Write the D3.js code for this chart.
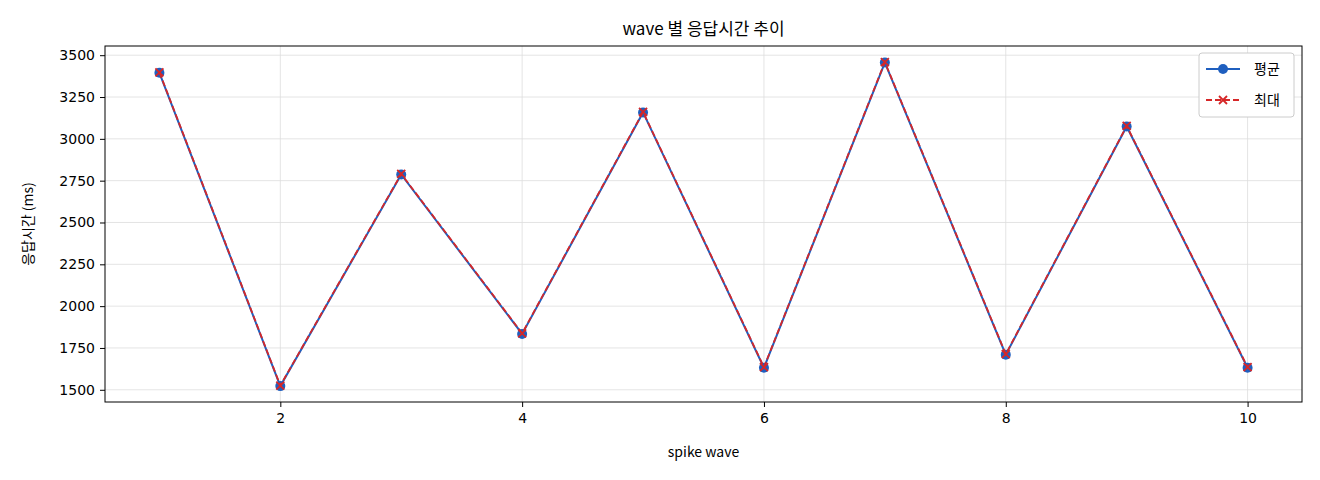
<!DOCTYPE html>
<html><head><meta charset="utf-8">
<script src="https://cdn.jsdelivr.net/npm/d3@7"></script>
<style>body{margin:0;background:#fff}text{font-family:"Noto Sans CJK KR","DejaVu Sans",sans-serif}</style>
</head><body><svg id="c" width="1320" height="480"></svg>
<script>
const waves=[1,2,3,4,5,6,7,8,9,10];
const avgVals=[3395,1522,2787,1834,3158,1632,3456,1710,3074,1632];
const maxVals=[3398,1525,2790,1837,3161,1635,3459,1713,3077,1635];
const xTicks=[2,4,6,8,10];
const yTicks=[1500,1750,2000,2250,2500,2750,3000,3250,3500];
const L=105,R=1302,T=46,B=402;
const svg=d3.select("#c");
const x=d3.scaleLinear().domain([0.55,10.45]).range([L,R]);
const y=d3.scaleLinear().domain([1427,3555]).range([B,T]);
const g=svg.append("g");
g.selectAll(".gx").data(xTicks).join("line").attr("x1",d=>x(d)).attr("x2",d=>x(d)).attr("y1",T).attr("y2",B).attr("stroke","#ddd").attr("stroke-width",0.8);
g.selectAll(".gy").data(yTicks).join("line").attr("y1",d=>y(d)).attr("y2",d=>y(d)).attr("x1",L).attr("x2",R).attr("stroke","#ddd").attr("stroke-width",0.8);
const xa=svg.append("g").attr("transform",`translate(0,${B})`).call(d3.axisBottom(x).tickValues(xTicks).tickFormat(d3.format("d")).tickSize(5).tickPadding(6));
const ya=svg.append("g").attr("transform",`translate(${L},0)`).call(d3.axisLeft(y).tickValues(yTicks).tickFormat(d3.format("d")).tickSize(5).tickPadding(5));
[xa,ya].forEach(a=>{a.select(".domain").remove();a.selectAll("text").attr("font-size",14).attr("fill","#000").style("font-family","'DejaVu Sans',sans-serif");});
svg.append("rect").attr("x",L).attr("y",T).attr("width",R-L).attr("height",B-T).attr("fill","none").attr("stroke","#000");
const line=d3.line().x((d,i)=>x(waves[i])).y(d=>y(d));
svg.append("path").datum(avgVals).attr("d",line).attr("fill","none").attr("stroke","#1f5fbf").attr("stroke-width",2);
svg.selectAll(".pa").data(avgVals).join("circle").attr("cx",(d,i)=>x(waves[i])).attr("cy",d=>y(d)).attr("r",5).attr("fill","#1f5fbf");
svg.append("path").datum(maxVals).attr("d",line).attr("fill","none").attr("stroke","#d62728").attr("stroke-width",1.8).attr("stroke-dasharray","6,3");
const cross=(sel,cx,cy)=>{sel.append("path").attr("d",`M${cx-4},${cy-4}L${cx+4},${cy+4}M${cx-4},${cy+4}L${cx+4},${cy-4}`).attr("stroke","#d62728").attr("stroke-width",1.8);};
maxVals.forEach((d,i)=>cross(svg,x(waves[i]),y(d)));
svg.append("text").attr("x",(L+R)/2).attr("y",35).attr("text-anchor","middle").attr("font-size",17).text("wave 별 응답시간 추이");
svg.append("text").attr("x",(L+R)/2).attr("y",457).attr("text-anchor","middle").attr("font-size",14).text("spike wave");
svg.append("text").attr("transform",`translate(33,${(T+B)/2}) rotate(-90)`).attr("text-anchor","middle").attr("font-size",14).text("응답시간 (ms)");
const lg=svg.append("g");
lg.append("rect").attr("x",1199).attr("y",53).attr("width",95).attr("height",64).attr("rx",3).attr("fill","#fff").attr("stroke","#ccc");
lg.append("line").attr("x1",1206).attr("x2",1240).attr("y1",69).attr("y2",69).attr("stroke","#1f5fbf").attr("stroke-width",2);
lg.append("circle").attr("cx",1223).attr("cy",69).attr("r",5).attr("fill","#1f5fbf");
lg.append("line").attr("x1",1206).attr("x2",1240).attr("y1",100).attr("y2",100).attr("stroke","#d62728").attr("stroke-width",1.8).attr("stroke-dasharray","6,3");
cross(lg,1223,100);
lg.append("text").attr("x",1254).attr("y",74).attr("font-size",14).text("평균");
lg.append("text").attr("x",1254).attr("y",105).attr("font-size",14).text("최대");
</script></body></html>
